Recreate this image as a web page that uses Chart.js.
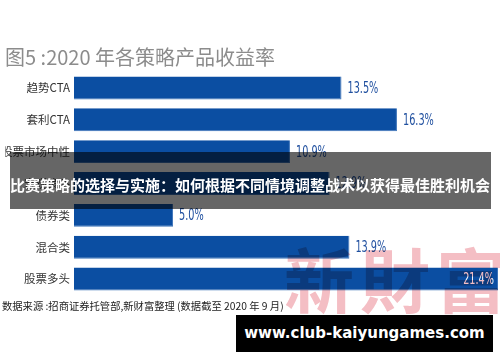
<!DOCTYPE html>
<html><head><meta charset="utf-8">
<script src="https://cdn.jsdelivr.net/npm/chart.js@4/dist/chart.umd.min.js"></script>
<style>
html,body{margin:0;padding:0;background:#fff;}
#wrap{position:relative;width:500px;height:362px;overflow:hidden;background:#fff;}
#c{position:absolute;left:0;top:0;}
.wm{position:absolute;left:284px;top:243px;font:700 70px "Noto Sans CJK TC","Noto Sans CJK SC";line-height:1;letter-spacing:6px;color:rgb(244,190,196);mix-blend-mode:multiply;white-space:nowrap;}
.banner{position:absolute;left:10px;top:152px;width:481px;height:57px;background:rgba(0,0,0,0.6);}
.btxt{position:absolute;left:0;top:175px;width:500px;text-align:center;color:#fff;font:bold 15px "Noto Sans CJK SC";line-height:20px;white-space:nowrap;}
.src{position:absolute;left:2px;top:298px;font:10.3px "Noto Sans CJK SC";color:#222;line-height:16px;white-space:nowrap;}
.url{position:absolute;left:236px;top:315px;width:257px;height:37px;background:#000;color:#fff;font:bold 15px "DejaVu Sans";line-height:37px;text-align:center;white-space:nowrap;}
</style></head>
<body>
<div id="wrap">
<canvas id="c" width="500" height="362"></canvas>
<div class="wm">新財富</div>
<div class="src">数据来源 :招商证券托管部,新财富整理 (数据截至 2020 年 9 月)</div>
<div class="banner"></div>
<div class="btxt">比赛策略的选择与实施：如何根据不同情境调整战术以获得最佳胜利机会</div>
<div class="url">www.club-kaiyungames.com</div>
</div>
<script>
const titleText = '图5 :2020 年各策略产品收益率';
const categories = ['趋势CTA', '套利CTA', '股票市场中性', '宏观策略', '债券类', '混合类', '股票多头'];
const returns = [13.5, 16.3, 10.9, 12.9, 5.0, 13.9, 21.4];
const valueLabels = ['13.5%', '16.3%', '10.9%', '12.9%', '5.0%', '13.9%', '21.4%'];

const valuePlugin = {
  id: 'valueLabels',
  afterDatasetsDraw(chart) {
    const ctx = chart.ctx;
    const meta = chart.getDatasetMeta(0);
    meta.data.forEach((bar, i) => {
      const txt = valueLabels[i];
      ctx.save();
      ctx.font = '15px "Liberation Sans Narrow", "DejaVu Sans Condensed", sans-serif';
      ctx.textBaseline = 'middle';
      const sx = 0.72;
      const w = ctx.measureText(txt).width * sx;
      if (bar.x + 6 + w > chart.width) {
        ctx.translate(bar.x - 4, bar.y + 1);
        ctx.scale(sx, 1);
        ctx.textAlign = 'right';
        ctx.fillStyle = '#ffffff';
      } else {
        ctx.translate(bar.x + 6, bar.y + 1);
        ctx.scale(sx, 1);
        ctx.textAlign = 'left';
        ctx.fillStyle = '#1f4f9f';
      }
      ctx.fillText(txt, 0, 0);
      ctx.restore();
    });
  }
};

new Chart(document.getElementById('c'), {
  type: 'bar',
  data: {
    labels: categories,
    datasets: [{
      data: returns,
      backgroundColor: '#0b4ea2',
      borderColor: '#3c73b9',
      borderWidth: {top: 0, left: 0, right: 1, bottom: 1},
      borderSkipped: false,
      barPercentage: 0.9,
      categoryPercentage: 0.8
    }]
  },
  options: {
    indexAxis: 'y',
    responsive: false,
    animation: false,
    events: [],
    layout: {padding: {left: 5, right: 0, top: 0, bottom: 67}},
    plugins: {
      legend: {display: false},
      tooltip: {enabled: false},
      title: {
        display: true, text: titleText, align: 'start', color: '#8c8c8c',
        font: {family: '"Noto Sans CJK SC"', size: 20, weight: 'normal'},
        padding: {top: 45, bottom: 3}
      }
    },
    scales: {
      x: {display: false, min: 0, max: 21.5},
      y: {
        grid: {display: false, drawTicks: false, tickLength: 0}, border: {display: false},
        ticks: {color: '#333', font: {family: '"Noto Sans CJK SC"', size: 11.5}, padding: 4},
        afterFit(s) { s.width = 69; }
      }
    }
  },
  plugins: [valuePlugin]
});
</script>
</body></html>
